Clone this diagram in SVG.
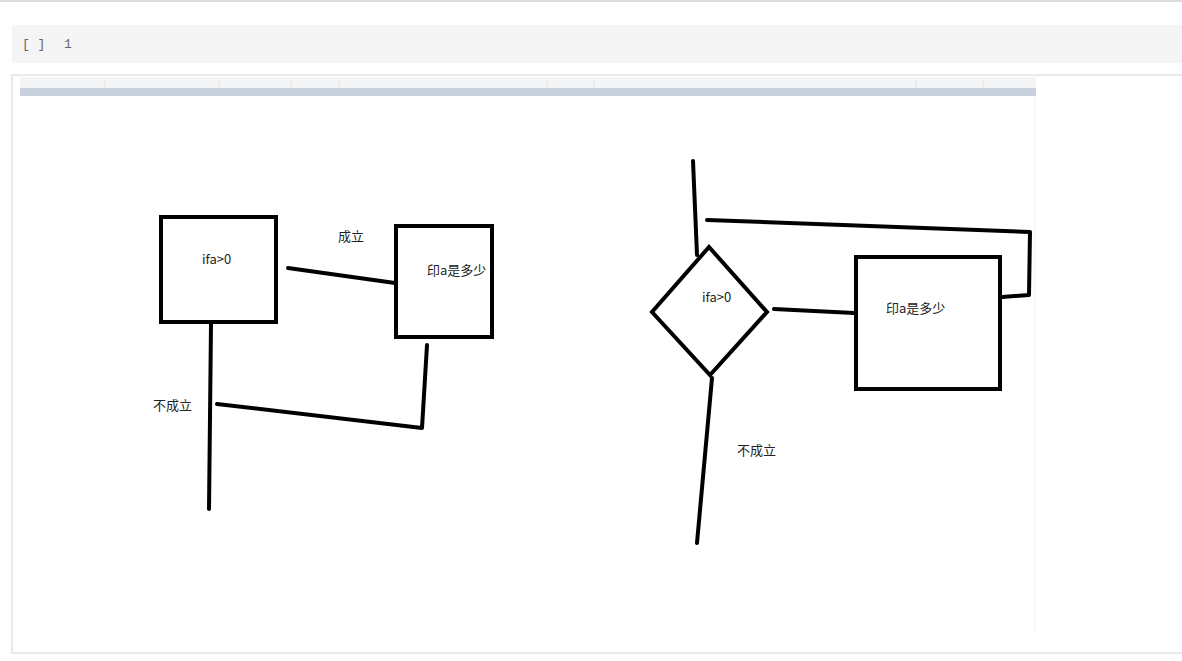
<svg xmlns="http://www.w3.org/2000/svg" width="1182" height="661" viewBox="0 0 1182 661">
<style>
.s{fill:none;stroke:#000;stroke-width:4;stroke-linecap:round;stroke-linejoin:miter}
.c{fill:none;stroke:#000;stroke-width:4;stroke-linecap:round;stroke-linejoin:round}
.t{font-family:"Noto Sans CJK SC","Liberation Sans",sans-serif;font-size:13px;fill:#222}
.m{font-family:"Liberation Mono","DejaVu Sans Mono",monospace;font-size:13px;fill:#666}
</style>
<rect x="0" y="0" width="1182" height="661" fill="#fff"/>
<line x1="0" y1="1" x2="1182" y2="1" stroke="#ddd" stroke-width="2"/>
<rect x="12" y="25" width="1170" height="38" fill="#f5f5f5"/>
<text class="m" x="22" y="48">[ ]</text>
<text class="m" x="64" y="48">1</text>
<rect x="12" y="75" width="1172" height="578" fill="#fff" stroke="#e2e2e2" stroke-width="1.5"/>
<rect x="20" y="77" width="1016" height="11" fill="#f3f4f6"/>
<rect x="20" y="88" width="1016" height="8" fill="#c9d0dd"/>
<g stroke="#e0e0e0" stroke-width="1">
<line x1="105" y1="80" x2="105" y2="87"/><line x1="219" y1="80" x2="219" y2="87"/><line x1="291" y1="80" x2="291" y2="87"/><line x1="339" y1="80" x2="339" y2="87"/><line x1="547" y1="80" x2="547" y2="87"/><line x1="594" y1="80" x2="594" y2="87"/><line x1="916" y1="80" x2="916" y2="87"/><line x1="983" y1="80" x2="983" y2="87"/>
</g>
<line x1="1035" y1="96" x2="1035" y2="634" stroke="#f4f4f4" stroke-width="1"/>
<g id="node-if1"><rect class="s" x="161" y="217" width="115" height="105"/><text class="t" x="202" y="264">ifa&gt;0</text></g>
<g id="node-print1"><rect class="s" x="396" y="226" width="96" height="111"/><text class="t" x="427" y="275">印a是多少</text></g>
<g id="node-if2"><polygon class="s" points="709,247 767,312 710,375 652,312"/><text class="t" x="702" y="302">ifa&gt;0</text></g>
<g id="node-print2"><rect class="s" x="856" y="257" width="144" height="132"/><text class="t" x="886" y="313">印a是多少</text></g>
<g id="connectors">
<line class="c" x1="288" y1="268" x2="395" y2="283"/>
<line class="c" x1="211" y1="324" x2="209" y2="509"/>
<polyline class="c" points="217,404 422,428 427,345"/>
<line class="c" x1="693" y1="161" x2="697" y2="255"/>
<line class="c" x1="774" y1="309" x2="854" y2="313"/>
<polyline class="c" points="1002,297 1029,295 1030,232 707,220"/>
<line class="c" x1="712" y1="378" x2="697" y2="543"/>
</g>
<text class="t" x="338" y="241">成立</text>
<text class="t" x="153" y="410">不成立</text>
<text class="t" x="737" y="455">不成立</text>
</svg>
